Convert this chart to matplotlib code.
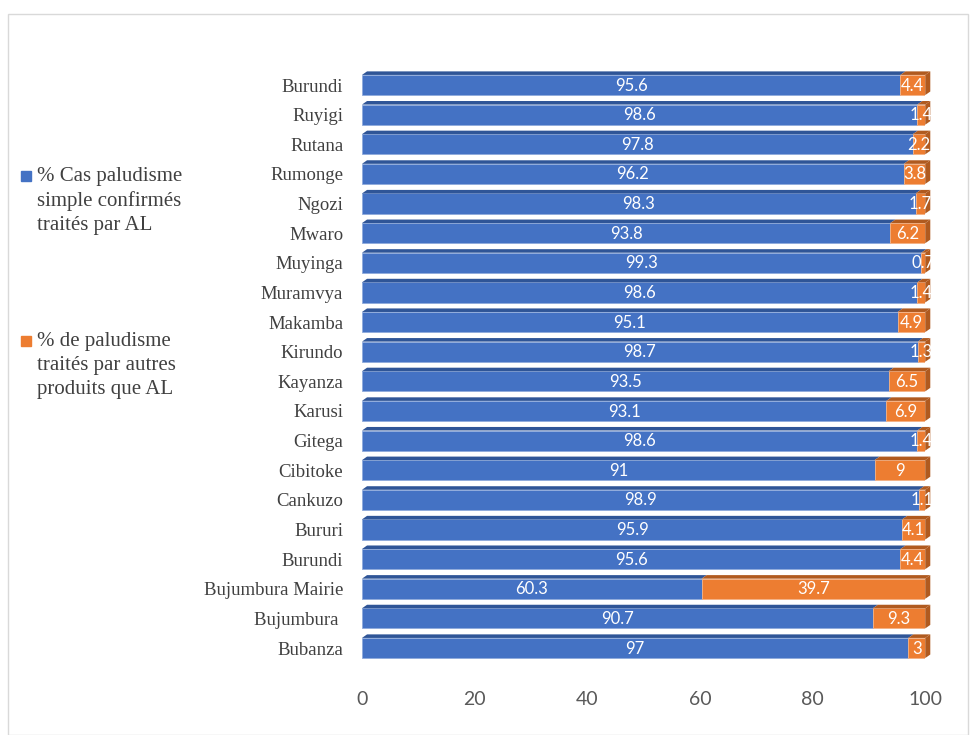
import matplotlib
matplotlib.use("Agg")
import matplotlib.pyplot as plt
from matplotlib.patches import Rectangle, Polygon

categories = ["Bubanza", "Bujumbura ", "Bujumbura Mairie", "Burundi", "Bururi", "Cankuzo",
              "Cibitoke", "Gitega", "Karusi", "Kayanza", "Kirundo", "Makamba", "Muramvya",
              "Muyinga", "Mwaro", "Ngozi", "Rumonge", "Rutana", "Ruyigi", "Burundi"]
al_values = [97, 90.7, 60.3, 95.6, 95.9, 98.9, 91, 98.6, 93.1, 93.5, 98.7, 95.1, 98.6,
             99.3, 93.8, 98.3, 96.2, 97.8, 98.6, 95.6]
other_values = [3, 9.3, 39.7, 4.4, 4.1, 1.1, 9, 1.4, 6.9, 6.5, 1.3, 4.9, 1.4,
                0.7, 6.2, 1.7, 3.8, 2.2, 1.4, 4.4]
legend_labels = ["% Cas paludisme\nsimple confirmés\ntraités par AL",
                 "% de paludisme\ntraités par autres\nproduits que AL"]
xticks = [0, 20, 40, 60, 80, 100]

blue = "#4472C4"
orange = "#ED7D31"
blue_dark = "#2F5597"
orange_dark = "#B05A1F"

serif = ["Liberation Serif", "DejaVu Serif"]
sans = ["Lato", "DejaVu Sans"]

fig = plt.figure(figsize=(9.77, 7.35), dpi=100)
fig.patches.append(Rectangle((8/977, 0.0), 960/977, 1 - 14/735, transform=fig.transFigure,
                             fill=False, edgecolor="#D9D9D9", linewidth=1))
ax = fig.add_axes([0.3705, 0.0982, 0.5765, 0.8063])

y = list(range(len(categories)))
h = 0.68
ax.barh(y, al_values, height=h, color=blue, edgecolor="#8FAADC", linewidth=0.6)
ax.barh(y, other_values, left=al_values, height=h, color=orange, edgecolor="#F4B183", linewidth=0.6)

# pseudo 3D depth: top face strip and right side face
dx, dy = 0.9, 0.12
for yi, a, o in zip(y, al_values, other_values):
    top = yi + h / 2
    ax.add_patch(Polygon([(0, top), (a, top), (a + dx, top + dy), (dx, top + dy)],
                         closed=True, color=blue_dark, lw=0, clip_on=False))
    ax.add_patch(Polygon([(a, top), (a + o, top), (a + o + dx, top + dy), (a + dx, top + dy)],
                         closed=True, color=orange_dark, lw=0, clip_on=False))
    end = a + o
    ax.add_patch(Polygon([(end, yi - h / 2), (end + dx, yi - h / 2 + dy),
                          (end + dx, top + dy), (end, top)],
                         closed=True, color=orange_dark, lw=0, clip_on=False))
    ax.text(a / 2, yi - 0.02, f"{a:g}", ha="center", va="center", color="white",
            fontsize=12, family=sans, clip_on=False)
    ax.text(a + o / 2, yi - 0.02, f"{o:g}", ha="center", va="center", color="white",
            fontsize=12, family=sans, clip_on=False)

ax.set_xlim(0, 100)
ax.set_ylim(-0.5, len(categories) - 0.5)
ax.set_yticks(y)
ax.set_yticklabels(categories, family=serif, fontsize=13.5, color="#404040")
ax.set_xticks(xticks)
ax.set_xticklabels([str(t) for t in xticks], family=sans, fontsize=14, color="#595959")
ax.tick_params(axis="y", length=0, pad=13.5)
ax.tick_params(axis="x", length=0, pad=20)
for s in ax.spines.values():
    s.set_visible(False)

# legend on the left
for (ty, label, col) in [(175, legend_labels[0], blue), (340, legend_labels[1], orange)]:
    fig.patches.append(Rectangle((21/977, 1 - (ty + 6)/735), 10/977, 10/735,
                                 transform=fig.transFigure, color=col))
    fig.text(37/977, 1 - (ty - 8)/735, label, ha="left", va="top", family=serif,
             fontsize=15, color="#404040", linespacing=1.36)

fig.savefig("out.png", dpi=100)
